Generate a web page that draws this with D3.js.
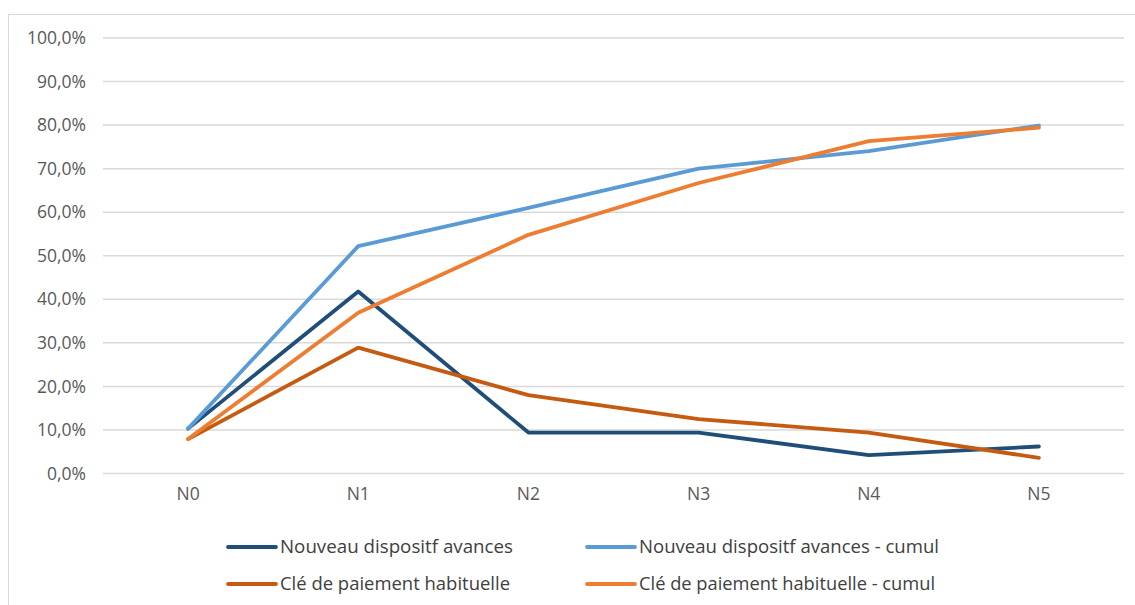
<!DOCTYPE html>
<html><head><meta charset="utf-8">
<script src="https://cdn.jsdelivr.net/npm/d3@7/dist/d3.min.js"></script>
<style>
html,body{margin:0;padding:0;background:#fff;}
svg{display:block;font-family:"Open Sans",sans-serif;}
</style></head>
<body>
<svg id="c" width="1135" height="605"></svg>
<script>
const categories = ["N0","N1","N2","N3","N4","N5"];
const yTicks = [0,0.1,0.2,0.3,0.4,0.5,0.6,0.7,0.8,0.9,1.0];
const seriesNames = ["Nouveau dispositf avances","Nouveau dispositf avances - cumul","Clé de paiement habituelle","Clé de paiement habituelle - cumul"];
const nouveau = [0.103,0.418,0.094,0.094,0.042,0.062];
const nouveauCumul = [0.103,0.522,0.610,0.700,0.740,0.799];
const cle = [0.079,0.289,0.180,0.125,0.094,0.036];
const cleCumul = [0.079,0.369,0.548,0.667,0.763,0.794];
const seriesColors = ["#1F4E79","#5B9BD5","#C55A11","#ED7D31"];

const svg = d3.select("#c");
svg.append("rect").attr("x",8.5).attr("y",14.5).attr("width",1200).attr("height",700)
  .attr("fill","#fff").attr("stroke","#d9d9d9").attr("stroke-width",1);

const x = d3.scaleBand().domain(categories).range([103,1124]);
const y = d3.scaleLinear().domain([0,1]).range([473.5,38]);
const fmt = v => d3.format(".1f")(v*100).replace(".",",") + "%";

// gridlines
svg.append("g").selectAll("line").data(yTicks).join("line")
  .attr("x1",103).attr("x2",1124)
  .attr("y1",d=>y(d)).attr("y2",d=>y(d))
  .attr("stroke","#d9d9d9").attr("stroke-width",1.5);

// y axis
const ya = svg.append("g").attr("transform","translate(86,0)")
  .call(d3.axisLeft(y).tickValues(yTicks).tickFormat(fmt).tickSize(0).tickPadding(0));
ya.select(".domain").remove();
ya.selectAll("text").attr("fill","#595959").style("font-size","17.5px").attr("font-family","Open Sans");

// x axis
const xa = svg.append("g").attr("transform","translate(0,488)")
  .call(d3.axisBottom(x).tickSize(0).tickPadding(0));
xa.select(".domain").remove();
xa.selectAll("text").attr("fill","#595959").style("font-size","17.5px").attr("dy","0.7em").attr("font-family","Open Sans");

const allSeries = [nouveau, nouveauCumul, cle, cleCumul];
const line = d3.line().x((d,i)=>x(categories[i])+x.bandwidth()/2).y(d=>y(d));
[0,1,2,3].forEach(k=>{
  svg.append("path").datum(allSeries[k]).attr("d",line)
    .attr("fill","none").attr("stroke",seriesColors[k]).attr("stroke-width",3.8)
    .attr("stroke-linejoin","round").attr("stroke-linecap","round");
});

// legend
const legendPos = [[228,547],[587,547],[228,584],[587,584]];
const legendWidths = [233,300,230,296];
seriesNames.forEach((n,k)=>{
  const [lx,ly] = legendPos[k];
  const g = svg.append("g");
  g.append("line").attr("x1",lx).attr("x2",lx+48).attr("y1",ly).attr("y2",ly)
    .attr("stroke",seriesColors[k]).attr("stroke-width",3.8).attr("stroke-linecap","round");
  g.append("text").attr("x",lx+52).attr("y",ly).attr("dy","0.35em")
    .attr("fill","#404040").style("font-size","17.5px")
    .attr("textLength",legendWidths[k]).attr("lengthAdjust","spacingAndGlyphs").text(n);
});
</script>
</body></html>
